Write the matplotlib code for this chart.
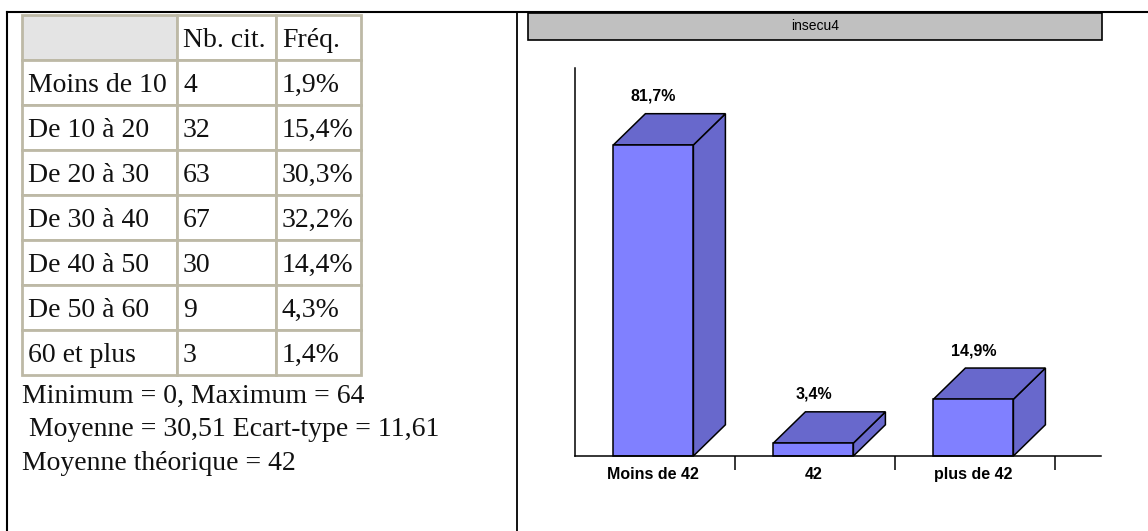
import matplotlib
matplotlib.use('Agg')
import matplotlib.pyplot as plt
from matplotlib.patches import Rectangle, Polygon

# tableau de gauche
tranches = ['Moins de 10', 'De 10 à 20', 'De 20 à 30', 'De 30 à 40',
            'De 40 à 50', 'De 50 à 60', '60 et plus']
nb_cit = [4, 32, 63, 67, 30, 9, 3]
freq = [1.9, 15.4, 30.3, 32.2, 14.4, 4.3, 1.4]
stats = ['Minimum = 0, Maximum = 64',
         ' Moyenne = 30,51 Ecart-type = 11,61',
         'Moyenne théorique = 42']

# graphique de droite
titre = 'insecu4'
categories = ['Moins de 42', '42', 'plus de 42']
pourcents = [81.7, 3.4, 14.9]

W, H = 1148, 531
fig = plt.figure(figsize=(W / 100, H / 100), dpi=100)

# fond en coordonnees pixels
bg = fig.add_axes([0, 0, 1, 1])
bg.set_xlim(0, W)
bg.set_ylim(H, 0)
bg.axis('off')

# cadre
bg.plot([7, W], [12, 12], color='black', lw=1.5)
bg.plot([7, 7], [12, H], color='black', lw=1.5)
bg.plot([517, 517], [12, H], color='black', lw=1.3)

serif = ['Liberation Serif', 'DejaVu Serif']
cols = [22, 177, 276, 361]
rowh = 45
top = 15
bord = '#bdb9a6'

# en-tete
heads = ['', 'Nb. cit.', 'Fréq.']
for j in range(3):
    fc = '#e4e4e4' if j == 0 else 'white'
    bg.add_patch(Rectangle((cols[j], top), cols[j + 1] - cols[j], rowh,
                           fc=fc, ec=bord, lw=2))
    bg.text(cols[j] + 6, top + rowh / 2 + 3, heads[j], family=serif, fontsize=20,
            va='center', ha='left', color='#111111')

for i in range(len(tranches)):
    y0 = top + rowh * (i + 1)
    vals = [tranches[i], str(nb_cit[i]), ('%.1f%%' % freq[i]).replace('.', ',')]
    for j in range(3):
        bg.add_patch(Rectangle((cols[j], y0), cols[j + 1] - cols[j], rowh,
                               fc='white', ec=bord, lw=2))
        bg.text(cols[j] + 6, y0 + rowh / 2 + 3, vals[j], family=serif, fontsize=20,
                va='center', ha='left', color='#111111')

for k, s in enumerate(stats):
    bg.text(22, 396 + 34 * k, s, family=serif, fontsize=20, va='center',
            ha='left', color='#111111')

# bandeau titre
bg.add_patch(Rectangle((528, 13), 574, 27, fc='#c0c0c0', ec='black', lw=1.2))
bg.text(815, 26.5, titre, family='Liberation Sans', fontsize=10,
        ha='center', va='center')

# graphique barres 3D
ax = fig.add_axes([575 / W, 1 - 456 / H, (1101 - 575) / W, (456 - 68) / H])
ax.patch.set_alpha(0)
ax.set_xlim(0, 3.2875)
ax.set_ylim(0, 101.9)
ax.spines['top'].set_visible(False)
ax.spines['right'].set_visible(False)
ax.spines['left'].set_linewidth(1.1)
ax.spines['bottom'].set_linewidth(1.1)
ax.set_yticks([])
ax.set_xticks([1, 2, 3])
ax.set_xticklabels([])
ax.tick_params(axis='x', which='major', length=10, width=1.1, direction='out')
centres = [i + 0.49 for i in range(len(categories))]
ax.set_xticks(centres, categories, minor=True)
ax.tick_params(axis='x', which='minor', length=0, pad=8)
for lab in ax.get_xticklabels(minor=True):
    lab.set_fontfamily('Liberation Sans')
    lab.set_fontweight('bold')
    lab.set_fontsize(11.5)

w = 0.5
dx, dy = 0.2, 8.2
face = '#8080ff'
dark = '#6868cc'
for c, v in zip(centres, pourcents):
    l, r = c - w / 2, c + w / 2
    ax.add_patch(Polygon([(r, 0), (r + dx, dy), (r + dx, v + dy), (r, v)],
                         closed=True, fc=dark, ec='black', lw=1.1, clip_on=False))
    ax.add_patch(Polygon([(l, v), (r, v), (r + dx, v + dy), (l + dx, v + dy)],
                         closed=True, fc=dark, ec='black', lw=1.1, clip_on=False))
    ax.add_patch(Rectangle((l, 0), w, v, fc=face, ec='black', lw=1.1,
                           clip_on=False))
    ax.annotate(('%.1f%%' % v).replace('.', ','), (c, v + dy), xytext=(0, 12.5),
                textcoords='offset points', ha='center', va='center',
                family='Liberation Sans', fontweight='bold', fontsize=11.5)

fig.savefig('out.png', dpi=100)
